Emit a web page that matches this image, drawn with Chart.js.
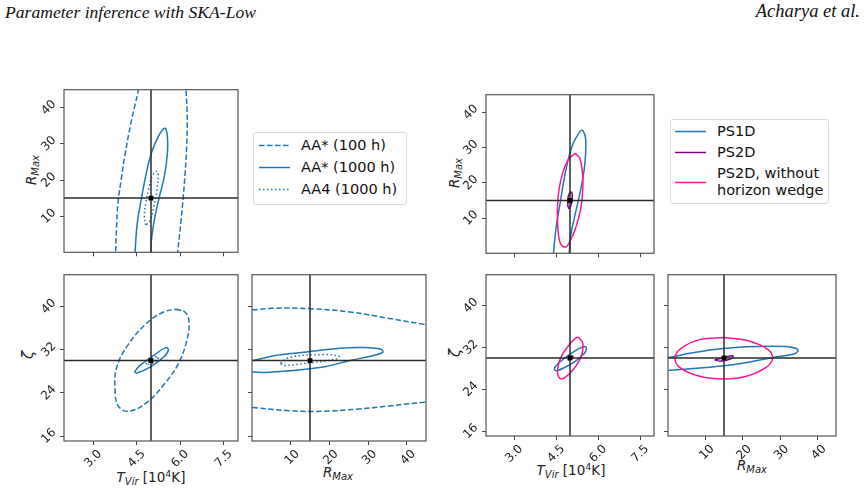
<!DOCTYPE html>
<html>
<head>
<meta charset="utf-8">
<script src="https://cdn.jsdelivr.net/npm/chart.js@4.4.1/dist/chart.umd.min.js"></script>
<style>
body{margin:0;background:#fff;width:868px;height:490px;position:relative;overflow:hidden;font-family:"DejaVu Sans",sans-serif;}
canvas{position:absolute;}
.hdr{position:absolute;top:1px;font-family:"Liberation Serif",serif;font-style:italic;font-size:18.5px;color:#111;}
.lab{position:absolute;font-size:13.5px;color:#222;white-space:nowrap;transform:translate(-50%,-50%);}
.lab i{font-style:italic;}
.lab sub{font-size:10px;font-style:italic;vertical-align:-3px;}
.lab sup{font-size:9.5px;vertical-align:5px;}
.rot{transform:translate(-50%,-50%) rotate(-90deg);}
.legend{position:absolute;border:1px solid #dcdcdc;border-radius:3px;font-size:14.5px;color:#111;background:#fff;}
.legend svg{position:absolute;}
.legend span{position:absolute;white-space:nowrap;line-height:16.6px;}
</style>
</head>
<body>
<div class="hdr" style="left:5px;font-size:17.6px;top:2px;">Parameter inference with SKA-Low</div>
<div class="hdr" style="right:8px;">Acharya et al.</div>

<div class="lab rot" style="left:32px;top:170px;"><i>R</i><sub>Max</sub></div>
<div class="lab rot" style="left:28px;top:355px;font-size:15px;"><i>ζ</i></div>
<div class="lab" style="left:151px;top:477px;"><i>T</i><sub>Vir</sub> [10<sup>4</sup>K]</div>
<div class="lab" style="left:338px;top:473px;"><i>R</i><sub>Max</sub></div>
<div class="lab rot" style="left:455px;top:173px;"><i>R</i><sub>Max</sub></div>
<div class="lab rot" style="left:455px;top:353px;font-size:15px;"><i>ζ</i></div>
<div class="lab" style="left:571px;top:470px;"><i>T</i><sub>Vir</sub> [10<sup>4</sup>K]</div>
<div class="lab" style="left:752px;top:466px;"><i>R</i><sub>Max</sub></div>

<div class="legend" style="left:253px;top:132px;width:152px;height:71px;">
  <svg style="left:5px;top:11px" width="32" height="3"><line x1="0" y1="1.5" x2="31" y2="1.5" stroke="#1f77b4" stroke-width="1.5" stroke-dasharray="5.5,2.5"/></svg>
  <span style="left:47px;top:4px">AA* (100 h)</span>
  <svg style="left:5px;top:33px" width="32" height="3"><line x1="0" y1="1.5" x2="31" y2="1.5" stroke="#1f77b4" stroke-width="1.5"/></svg>
  <span style="left:47px;top:26px">AA* (1000 h)</span>
  <svg style="left:5px;top:55px" width="32" height="3"><line x1="0" y1="1.5" x2="31" y2="1.5" stroke="#1f77b4" stroke-width="1.5" stroke-dasharray="1.5,2.5"/></svg>
  <span style="left:47px;top:48px">AA4 (1000 h)</span>
</div>

<div class="legend" style="left:670px;top:119px;width:157px;height:83px;">
  <svg style="left:4px;top:10px" width="32" height="3"><line x1="0" y1="1.5" x2="31" y2="1.5" stroke="#1f77b4" stroke-width="1.5"/></svg>
  <span style="left:46px;top:3px">PS1D</span>
  <svg style="left:4px;top:31px" width="32" height="3"><line x1="0" y1="1.5" x2="31" y2="1.5" stroke="#800080" stroke-width="1.5"/></svg>
  <span style="left:46px;top:24px">PS2D</span>
  <svg style="left:4px;top:61px" width="32" height="3"><line x1="0" y1="1.5" x2="31" y2="1.5" stroke="#ff1493" stroke-width="1.5"/></svg>
  <span style="left:46px;top:45px">PS2D, without<br>horizon wedge</span>
</div>

<script>
// tick positions
const tvirTicks = [3.0, 4.5, 6.0, 7.5];
const rmaxTicks = [10, 20, 30, 40];
const zetaTicks = [16, 24, 32, 40];
// axis ranges
const tvirRange = [2, 8];
const rmaxRange = [0, 45];
const zetaRange = [15.1, 45.9];
// true parameter values
const truthT = 5, truthR = 15, truthZ = 30;

// ---- left: array configurations [x, y]
const aa100TR_left = [[3.77,-2],[3.78,0],[3.81,6.6],[3.86,13.6],[3.98,20.6],[4.10,26.8],[4.30,35.5],[4.45,40.8],[4.56,44.7],[4.6,47]];
const aa100TR_right = [[6.2,47],[6.21,44.7],[6.24,39.9],[6.25,35.5],[6.23,29.4],[6.18,22.4],[6.11,15.1],[6.03,8.3],[5.92,0],[5.9,-2]];
const aa1000TR = [[4.44,-2],[4.45,0],[4.53,8.3],[4.68,15.3],[4.85,22.4],[5.02,27.6],[5.25,32.0],[5.43,34.2],[5.51,34.2],[5.57,31.6],[5.56,26.8],[5.45,20.6],[5.29,15.4],[5.14,10.1],[5.02,3.9],[4.99,0],[4.98,-2]];
const aa4TR = [[4.82,7.5],[4.77,10.1],[4.82,13.6],[4.93,17.9],[5.06,21.4],[5.20,22.5],[5.25,21.5],[5.20,17.1],[5.10,12.7],[4.97,8.8],[4.82,7.5]];

const aa100TZ = [[5.85,39.5],[6.17,39.0],[6.31,37.2],[6.23,33.6],[5.94,29.4],[5.48,25.8],[4.85,22.2],[4.22,20.6],[3.87,21.6],[3.76,24.6],[3.82,28.8],[4.22,33.0],[4.85,36.9],[5.43,39.0],[5.85,39.5]];
const aa1000TZ = [[4.43,27.9],[4.62,29.1],[5.08,30.9],[5.51,32.4],[5.60,31.9],[5.43,30.6],[4.97,28.8],[4.51,27.7],[4.43,27.9]];
const aa4TZ = [[4.82,29.3],[4.90,29.9],[5.02,30.3],[5.23,30.8],[5.20,30.0],[4.97,29.3],[4.82,29.3]];

const aa100RZ_top = [[-2,39.4],[0.2,39.4],[5.6,39.7],[15,39.6],[25.3,39.0],[35.5,37.8],[44.5,36.7],[47,36.4]];
const aa100RZ_bot = [[-2,21.3],[0.2,21.3],[9.9,20.7],[18.4,20.6],[27.0,21.0],[35.5,21.6],[44.5,22.3],[47,22.5]];
const aa1000RZ = [[-2,30.2],[0.2,30.0],[5.6,30.9],[14.1,31.6],[22.7,32.3],[29.5,32.4],[33.4,32.1],[33.8,31.5],[31.2,30.9],[25.3,30.0],[18.4,28.8],[9.9,28.1],[3.9,27.8],[0.2,27.9],[-2,28.0]];
const aa4RZ = [[7.3,29.5],[9.9,30.6],[18.4,31.1],[22.5,30.8],[21.8,30.3],[14.1,29.5],[8.2,29.1],[7.3,29.5]];

// ---- right: power spectra
const ps1dTR = [[4.39,-2],[4.41,0],[4.50,7.1],[4.65,14.4],[4.85,23.5],[5.09,30.7],[5.38,34.8],[5.46,34.8],[5.56,32.5],[5.53,25.3],[5.38,18.0],[5.20,11.6],[5.03,5.3],[4.97,0],[4.96,-2]];
const ps2dTR = [[4.92,13.5],[4.94,16.2],[5.04,17.4],[5.08,16.6],[5.06,14.4],[4.97,12.7],[4.92,13.5]];
const ps2dNwTR = [[5.18,28.4],[5.34,27.1],[5.44,23.5],[5.46,18.9],[5.38,12.5],[5.20,7.1],[4.97,3.0],[4.83,1.8],[4.65,3.0],[4.56,8.0],[4.56,14.4],[4.67,20.7],[4.91,26.2],[5.18,28.4]];

const ps1dTZ = [[4.44,28.1],[4.61,29.1],[4.97,30.6],[5.32,31.8],[5.53,32.2],[5.59,31.8],[5.50,30.8],[5.20,29.4],[4.85,28.3],[4.55,27.6],[4.45,27.7],[4.44,28.1]];
const ps2dTZ = [[4.93,29.6],[5.03,30.2],[5.11,30.3],[5.06,29.9],[4.97,29.6],[4.93,29.6]];
const ps2dNwTZ = [[5.32,33.9],[5.46,32.8],[5.44,31.0],[5.32,29.4],[5.09,27.6],[4.85,26.4],[4.67,26.0],[4.56,27.0],[4.59,28.8],[4.73,30.7],[4.97,32.5],[5.20,33.8],[5.32,33.9]];

const ps1dRZ = [[-2,30.3],[0,30.1],[5.8,30.9],[14.7,31.8],[23.7,32.2],[31.7,32.2],[34.4,31.8],[34.8,31.3],[33.5,30.7],[28.1,30.1],[19.2,28.9],[10.3,28.2],[3.1,27.8],[0,27.6],[-2,27.5]];
const ps2dRZ = [[12.5,29.6],[15,30.1],[17.4,30.4],[17.0,29.9],[14.3,29.4],[12.5,29.6]];
const ps2dNwRZ = [[15,33.9],[21.9,33.2],[26.8,31.6],[28,29.9],[26.3,28.2],[21,26.5],[15,26.0],[8.5,26.5],[3.1,28.2],[1.9,30.1],[3.6,31.9],[8.5,33.5],[15,33.9]];

const BLUE = '#1f77b4', PURPLE = '#800080', PINK = '#ff1493';
const DASH = [5.5, 2.5], DOT = [1.5, 2.5];

function line(arr, color, dash) {
    return {
        data: arr.map(p => ({x: p[0], y: p[1]})),
        showLine: true,
        borderColor: color,
        borderWidth: 1.5,
        borderDash: dash || [],
        pointRadius: 0,
        tension: 0.4,
        fill: false,
        clip: 0
    };
}
// truth cross + marker (drawn on top, so they go first)
function truth(x, y) {
    return [
        {data: [{x: x, y: y}], pointStyle: 'rect', pointRadius: 3.4, backgroundColor: '#000', borderWidth: 0, showLine: false, clip: 0},
        {data: [{x: x, y: -1000}, {x: x, y: 1000}], showLine: true, borderColor: '#2b2b2b', borderWidth: 1.5, pointRadius: 0, clip: 0},
        {data: [{x: -1000, y: y}, {x: 1000, y: y}], showLine: true, borderColor: '#2b2b2b', borderWidth: 1.5, pointRadius: 0, clip: 0}
    ];
}

// frame around every panel
const framePlugin = {
    id: 'frame',
    afterDraw(chart) {
        const a = chart.chartArea, ctx = chart.ctx;
        ctx.save();
        ctx.strokeStyle = '#555';
        ctx.lineWidth = 1.2;
        ctx.strokeRect(a.left, a.top, a.right - a.left, a.bottom - a.top);
        ctx.restore();
    }
};

function axis(range, ticks, labels, fmt, size, horiz) {
    return {
        type: 'linear',
        min: range[0],
        max: range[1],
        afterBuildTicks: s => { s.ticks = ticks.map(v => ({value: v})); },
        afterFit: s => { if (horiz) s.height = size; else s.width = size; },
        ticks: {
            autoSkip: false,
            minRotation: 45,
            maxRotation: 45,
            padding: horiz ? 2 : 3.5,
            labelOffset: horiz ? 7 : 0,
            crossAlign: horiz ? 'near' : 'center',
            color: '#222',
            font: {family: 'DejaVu Sans', size: 12},
            callback: v => labels ? fmt(v) : ''
        },
        grid: {drawOnChartArea: false, drawTicks: true, tickLength: 4, color: '#444', tickWidth: 1},
        border: {display: false}
    };
}

// box = [left, top, width, height] of the plotting area on the page
function panel(box, xs, ys, ml, mb, datasets) {
    const pad = 6;
    const c = document.createElement('canvas');
    c.width = box[2] + ml + pad;
    c.height = box[3] + mb + pad;
    c.style.left = (box[0] - ml) + 'px';
    c.style.top = (box[1] - pad) + 'px';
    document.body.appendChild(c);
    new Chart(c, {
        type: 'scatter',
        data: {datasets: datasets},
        options: {
            responsive: false,
            devicePixelRatio: 1,
            animation: false,
            events: [],
            layout: {padding: {top: pad, right: pad, left: 0, bottom: 0}},
            plugins: {legend: {display: false}, tooltip: {enabled: false}},
            scales: {
                x: axis(xs.range, xs.ticks, xs.labels, xs.fmt, mb, true),
                y: axis(ys.range, ys.ticks, ys.labels, ys.fmt, ml, false)
            }
        },
        plugins: [framePlugin]
    });
}

const fT = v => v.toFixed(1), fI = v => String(v);
const xT = l => ({range: tvirRange, ticks: tvirTicks, labels: l, fmt: fT});
const xR = l => ({range: rmaxRange, ticks: rmaxTicks, labels: l, fmt: fI});
const yR = l => ({range: rmaxRange, ticks: rmaxTicks, labels: l, fmt: fI});
const yZ = l => ({range: zetaRange, ticks: zetaTicks, labels: l, fmt: fI});

// left corner plot
panel([64, 85, 174, 170], xT(false), yR(true), 50, 8, [
    ...truth(truthT, truthR),
    line(aa1000TR, BLUE), line(aa4TR, BLUE, DOT),
    line(aa100TR_left, BLUE, DASH), line(aa100TR_right, BLUE, DASH)
]);
panel([64, 270, 174, 171], xT(true), yZ(true), 50, 50, [
    ...truth(truthT, truthZ),
    line(aa1000TZ, BLUE), line(aa4TZ, BLUE, DOT), line(aa100TZ, BLUE, DASH)
]);
panel([252, 270, 174, 171], xR(true), yZ(false), 8, 50, [
    ...truth(truthR, truthZ),
    line(aa1000RZ, BLUE), line(aa4RZ, BLUE, DOT),
    line(aa100RZ_top, BLUE, DASH), line(aa100RZ_bot, BLUE, DASH)
]);

// right corner plot
panel([486, 90, 168, 166], xT(false), yR(true), 50, 8, [
    ...truth(truthT, truthR),
    line(ps2dTR, PURPLE), line(ps2dNwTR, PINK), line(ps1dTR, BLUE)
]);
panel([486, 270, 168, 166], xT(true), yZ(true), 50, 50, [
    ...truth(truthT, truthZ),
    line(ps2dTZ, PURPLE), line(ps2dNwTZ, PINK), line(ps1dTZ, BLUE)
]);
panel([668, 270, 168, 166], xR(true), yZ(false), 8, 50, [
    ...truth(truthR, truthZ),
    line(ps2dRZ, PURPLE), line(ps2dNwRZ, PINK), line(ps1dRZ, BLUE)
]);
</script>
</body>
</html>
